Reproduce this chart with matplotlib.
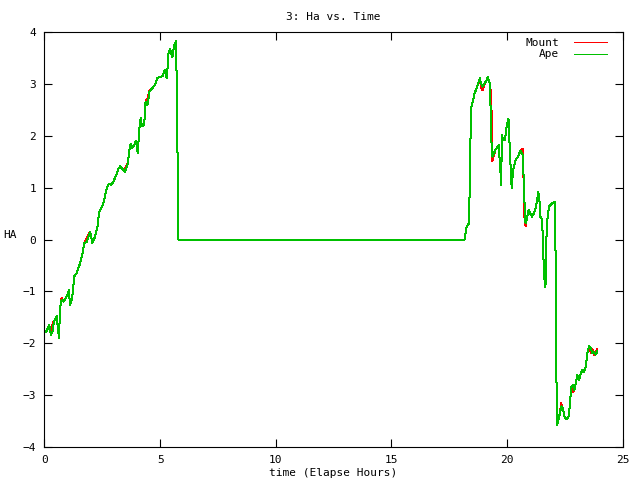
import matplotlib
matplotlib.use("Agg")
import matplotlib.pyplot as plt

# elapsed hours
hours = [0.06, 0.21, 0.28, 0.35, 0.41, 0.53, 0.57, 0.63, 0.67, 0.74, 0.82, 0.96,
         1.06, 1.10, 1.19, 1.29, 1.39, 1.54, 1.65, 1.72, 1.83, 1.97, 2.07, 2.19,
         2.29, 2.37, 2.52, 2.58, 2.69, 2.79, 2.88, 2.98, 3.10, 3.20, 3.27, 3.41,
         3.49, 3.60, 3.67, 3.73, 3.77, 3.88, 3.96, 4.03, 4.10, 4.16, 4.21, 4.31,
         4.37, 4.45, 4.54, 4.64, 4.78, 4.88, 5.00, 5.11, 5.20, 5.29, 5.36, 5.43,
         5.53, 5.61, 5.69, 5.72, 5.77, 5.79,
         18.16, 18.25, 18.35, 18.38, 18.42, 18.46, 18.52, 18.59, 18.68, 18.75,
         18.82, 18.88, 18.95, 19.03, 19.11, 19.17, 19.26, 19.32, 19.36, 19.50,
         19.64, 19.72, 19.75, 19.77, 19.83, 19.90, 19.99, 20.06, 20.16, 20.20,
         20.26, 20.30, 20.37, 20.47, 20.58, 20.68, 20.76, 20.80, 20.84, 20.89,
         20.93, 21.00, 21.08, 21.15, 21.23, 21.30, 21.35, 21.41, 21.44, 21.49,
         21.54, 21.59, 21.64, 21.68, 21.71, 21.77, 21.81, 21.88, 21.95, 22.06,
         22.10, 22.13, 22.16, 22.20, 22.27, 22.34, 22.41, 22.48, 22.56, 22.65,
         22.71, 22.77, 22.84, 22.91, 22.97, 23.04, 23.11, 23.19, 23.26, 23.33,
         23.40, 23.47, 23.55, 23.62, 23.69, 23.76, 23.83, 23.90]

ape_ha = [-1.79, -1.65, -1.84, -1.77, -1.58, -1.48, -1.68, -1.90, -1.34, -1.16, -1.20, -1.10,
          -0.97, -1.26, -1.16, -0.71, -0.65, -0.46, -0.26, -0.07, -0.04, 0.15, -0.07, 0.06,
          0.25, 0.54, 0.67, 0.76, 0.99, 1.08, 1.05, 1.12, 1.24, 1.37, 1.41, 1.34,
          1.31, 1.47, 1.73, 1.85, 1.76, 1.82, 1.91, 1.66, 2.14, 2.34, 2.19, 2.21,
          2.66, 2.59, 2.85, 2.91, 2.98, 3.11, 3.14, 3.15, 3.27, 3.11, 3.59, 3.67,
          3.52, 3.75, 3.83, 2.88, 0.96, 0.00,
          0.00, 0.25, 0.31, 0.89, 1.98, 2.56, 2.66, 2.82, 2.91, 3.01,
          3.11, 3.00, 2.95, 3.01, 3.07, 3.13, 3.01, 1.92, 1.60, 1.73,
          1.82, 1.27, 1.05, 2.01, 1.94, 1.91, 2.20, 2.33, 1.33, 0.99,
          1.33, 1.42, 1.53, 1.60, 1.71, 1.63, 0.63, 0.31, 0.37, 0.47,
          0.57, 0.50, 0.44, 0.50, 0.60, 0.76, 0.91, 0.70, 0.44, 0.41,
          0.12, -0.59, -0.91, -0.84, 0.25, 0.50, 0.63, 0.67, 0.70, 0.73,
          -0.39, -2.51, -3.57, -3.51, -3.38, -3.22, -3.25, -3.41, -3.47, -3.44,
          -3.22, -2.86, -2.80, -2.90, -2.77, -2.61, -2.71, -2.58, -2.52, -2.55,
          -2.46, -2.19, -2.06, -2.10, -2.19, -2.16, -2.22, -2.16]

mount_ha = [-1.79, -1.65, -1.84, -1.62, -1.58, -1.48, -1.68, -1.90, -1.34, -1.12, -1.20, -1.10,
            -0.97, -1.26, -1.16, -0.71, -0.65, -0.46, -0.26, -0.07, 0.02, 0.15, -0.07, 0.06,
            0.25, 0.54, 0.67, 0.76, 0.99, 1.08, 1.05, 1.12, 1.24, 1.37, 1.41, 1.34,
            1.38, 1.47, 1.73, 1.85, 1.76, 1.82, 1.91, 1.66, 2.14, 2.24, 2.19, 2.21,
            2.66, 2.72, 2.88, 2.91, 2.98, 3.11, 3.14, 3.15, 3.27, 3.11, 3.59, 3.67,
            3.52, 3.75, 3.83, 2.88, 0.96, 0.00,
            0.00, 0.25, 0.31, 0.89, 1.98, 2.56, 2.66, 2.82, 2.91, 3.01,
            3.11, 2.92, 2.88, 3.01, 3.07, 3.13, 3.01, 2.70, 1.52, 1.73,
            1.82, 1.27, 1.05, 2.01, 1.94, 1.91, 2.20, 2.33, 1.33, 0.99,
            1.33, 1.42, 1.53, 1.60, 1.71, 1.75, 0.30, 0.26, 0.37, 0.47,
            0.57, 0.50, 0.44, 0.50, 0.60, 0.76, 0.91, 0.70, 0.44, 0.41,
            0.12, -0.59, -0.91, -0.84, 0.25, 0.50, 0.63, 0.67, 0.70, 0.73,
            -0.39, -2.51, -3.57, -3.51, -3.38, -3.16, -3.25, -3.41, -3.47, -3.44,
            -3.22, -2.86, -2.95, -2.90, -2.77, -2.61, -2.71, -2.58, -2.52, -2.55,
            -2.46, -2.19, -2.06, -2.18, -2.12, -2.22, -2.16, -2.12]

plt.rcParams['font.family'] = ['DejaVu Sans Mono']
plt.rcParams['font.size'] = 8

fig = plt.figure(figsize=(6.4, 4.8), dpi=100)
ax = fig.add_axes([0.0695, 0.069, 0.9035, 0.864])

ax.plot(hours, mount_ha, color='#ff0000', lw=0.72, antialiased=False, label='Mount')
ax.plot(hours, ape_ha, color='#00c000', lw=0.72, antialiased=False, label='Ape')

ax.set_xlim(0, 25)
ax.set_ylim(-4, 4)
ax.set_xticks(range(0, 26, 5))
ax.set_yticks(range(-4, 5))
ax.tick_params(direction='in', top=True, right=True, length=6, width=0.8, pad=6)
for s in ax.spines.values():
    s.set_linewidth(0.8)

ax.set_title('3: Ha vs. Time', fontsize=8, pad=9)
ax.set_xlabel('time (Elapse Hours)', labelpad=2)
ax.set_ylabel('HA', rotation=0, labelpad=8)
ax.yaxis.set_label_coords(-0.06, 0.5)

leg = ax.legend(loc='upper right', bbox_to_anchor=(0.973, 0.985), frameon=False,
                markerfirst=False, handlelength=3.0, handletextpad=1.35,
                borderaxespad=0, borderpad=0, labelspacing=0.1)
for t in leg.get_texts():
    t.set_ha('right')

fig.savefig('out.png', dpi=100)
